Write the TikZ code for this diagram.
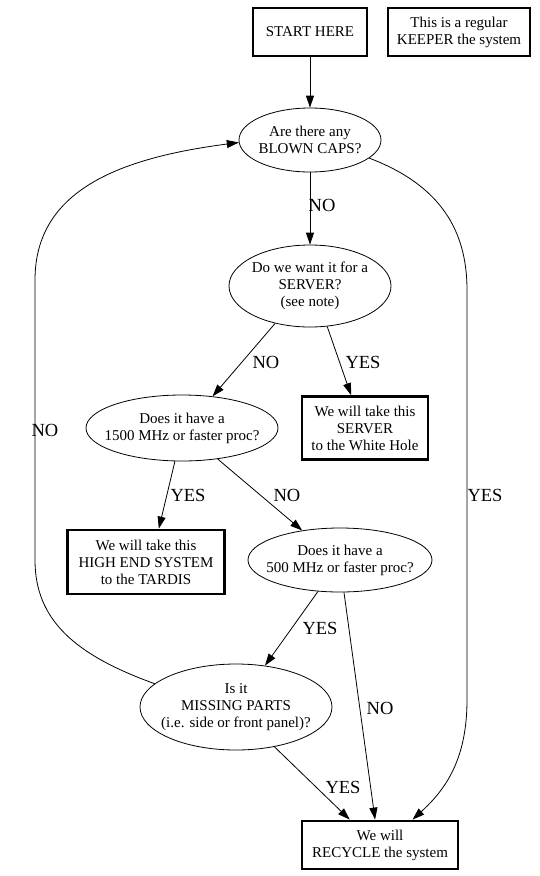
\documentclass[tikz,border=0pt]{standalone}
\usepackage{fontspec}
\setmainfont{Liberation Serif}
\usetikzlibrary{shapes.geometric,arrows.meta}
\begin{document}
\begin{tikzpicture}[x=1pt,y={(0,-1pt)},
  every node/.style={font=\fontsize{15}{17}\selectfont, align=center, inner sep=0pt},
  boxnode/.style={draw, rectangle, line width=2.8pt},
  ellnode/.style={draw, ellipse, line width=0.8pt, inner xsep=-15pt, inner ysep=-4pt},
  edge/.style={draw, line width=0.8pt, -{Triangle[length=12pt,width=8pt]}},
  lbl/.style={font=\fontsize{18.5}{20}\selectfont}
]
\useasboundingbox (0,0) rectangle (539,876);
\fill[white] (0,0) rectangle (539,876);
% nodes
\node[boxnode, minimum width=114, minimum height=48] (start) at (310,32) {START HERE};
\node[boxnode, minimum width=142, minimum height=48] (keep) at (459,32) {This is a regular\\KEEPER the system};
\node[ellnode, minimum width=142, minimum height=64] (bc) at (310,140) {Are there any\\BLOWN CAPS?};
\node[ellnode, minimum width=162, minimum height=82] (srv) at (310,286) {Do we want it for a\\SERVER?\\(see note)};
\node[ellnode, minimum width=192, minimum height=66] (fast) at (182,428) {Does it have a\\1500 MHz or faster proc?};
\node[boxnode, minimum width=126, minimum height=63] (wh) at (365,428) {We will take this\\SERVER\\to the White Hole};
\node[boxnode, minimum width=157, minimum height=64] (tardis) at (146,562) {We will take this\\HIGH END SYSTEM\\to the TARDIS};
\node[ellnode, minimum width=184, minimum height=64] (mid) at (340,560) {Does it have a\\500 MHz or faster proc?};
\node[ellnode, minimum width=192, minimum height=86] (mp) at (236,707) {Is it\\MISSING PARTS\\(i.e. side or front panel)?};
\node[boxnode, minimum width=156, minimum height=48] (rc) at (380,845) {We will\\RECYCLE the system};
% edges
\draw[edge] (start) -- (bc);
\draw[edge] (bc) -- (srv);
\draw[edge] (srv.227) -- (fast.46);
\draw[edge] (srv.293) -- (wh.113);
\draw[edge] (fast.258) -- (tardis.69);
\draw[edge] (fast.319) -- (mid.142);
\draw[edge] (mid.235) -- (mp.55);
\draw[edge] (mid.277) -- (rc.101);
\draw[edge] (mp.314) -- (rc.140);
\coordinate (r1) at (467,290);
\coordinate (r2) at (467,700);
\draw[edge] (bc.343) .. controls (440,185) and (467,230) .. (r1) -- (r2) .. controls (467,760) and (445,790) .. (rc.38);
\coordinate (l1) at (35,560);
\coordinate (l2) at (35,280);
\draw[edge] (mp.164) .. controls (75,655) and (35,620) .. (l1) -- (l2) .. controls (35,190) and (120,158) .. (bc.182);
% labels
\node[lbl] (n1) at (322,205) {NO};
\node[lbl] (n2) at (266,362) {NO};
\node[lbl] (y1) at (363,362) {YES};
\node[lbl] (n3) at (45,430) {NO};
\node[lbl] (y2) at (188,495) {YES};
\node[lbl] (n4) at (287,495) {NO};
\node[lbl] (y3) at (485,495) {YES};
\node[lbl] (y4) at (320,628) {YES};
\node[lbl] (n5) at (380,708) {NO};
\node[lbl] (y5) at (343,787) {YES};
\end{tikzpicture}
\end{document}
